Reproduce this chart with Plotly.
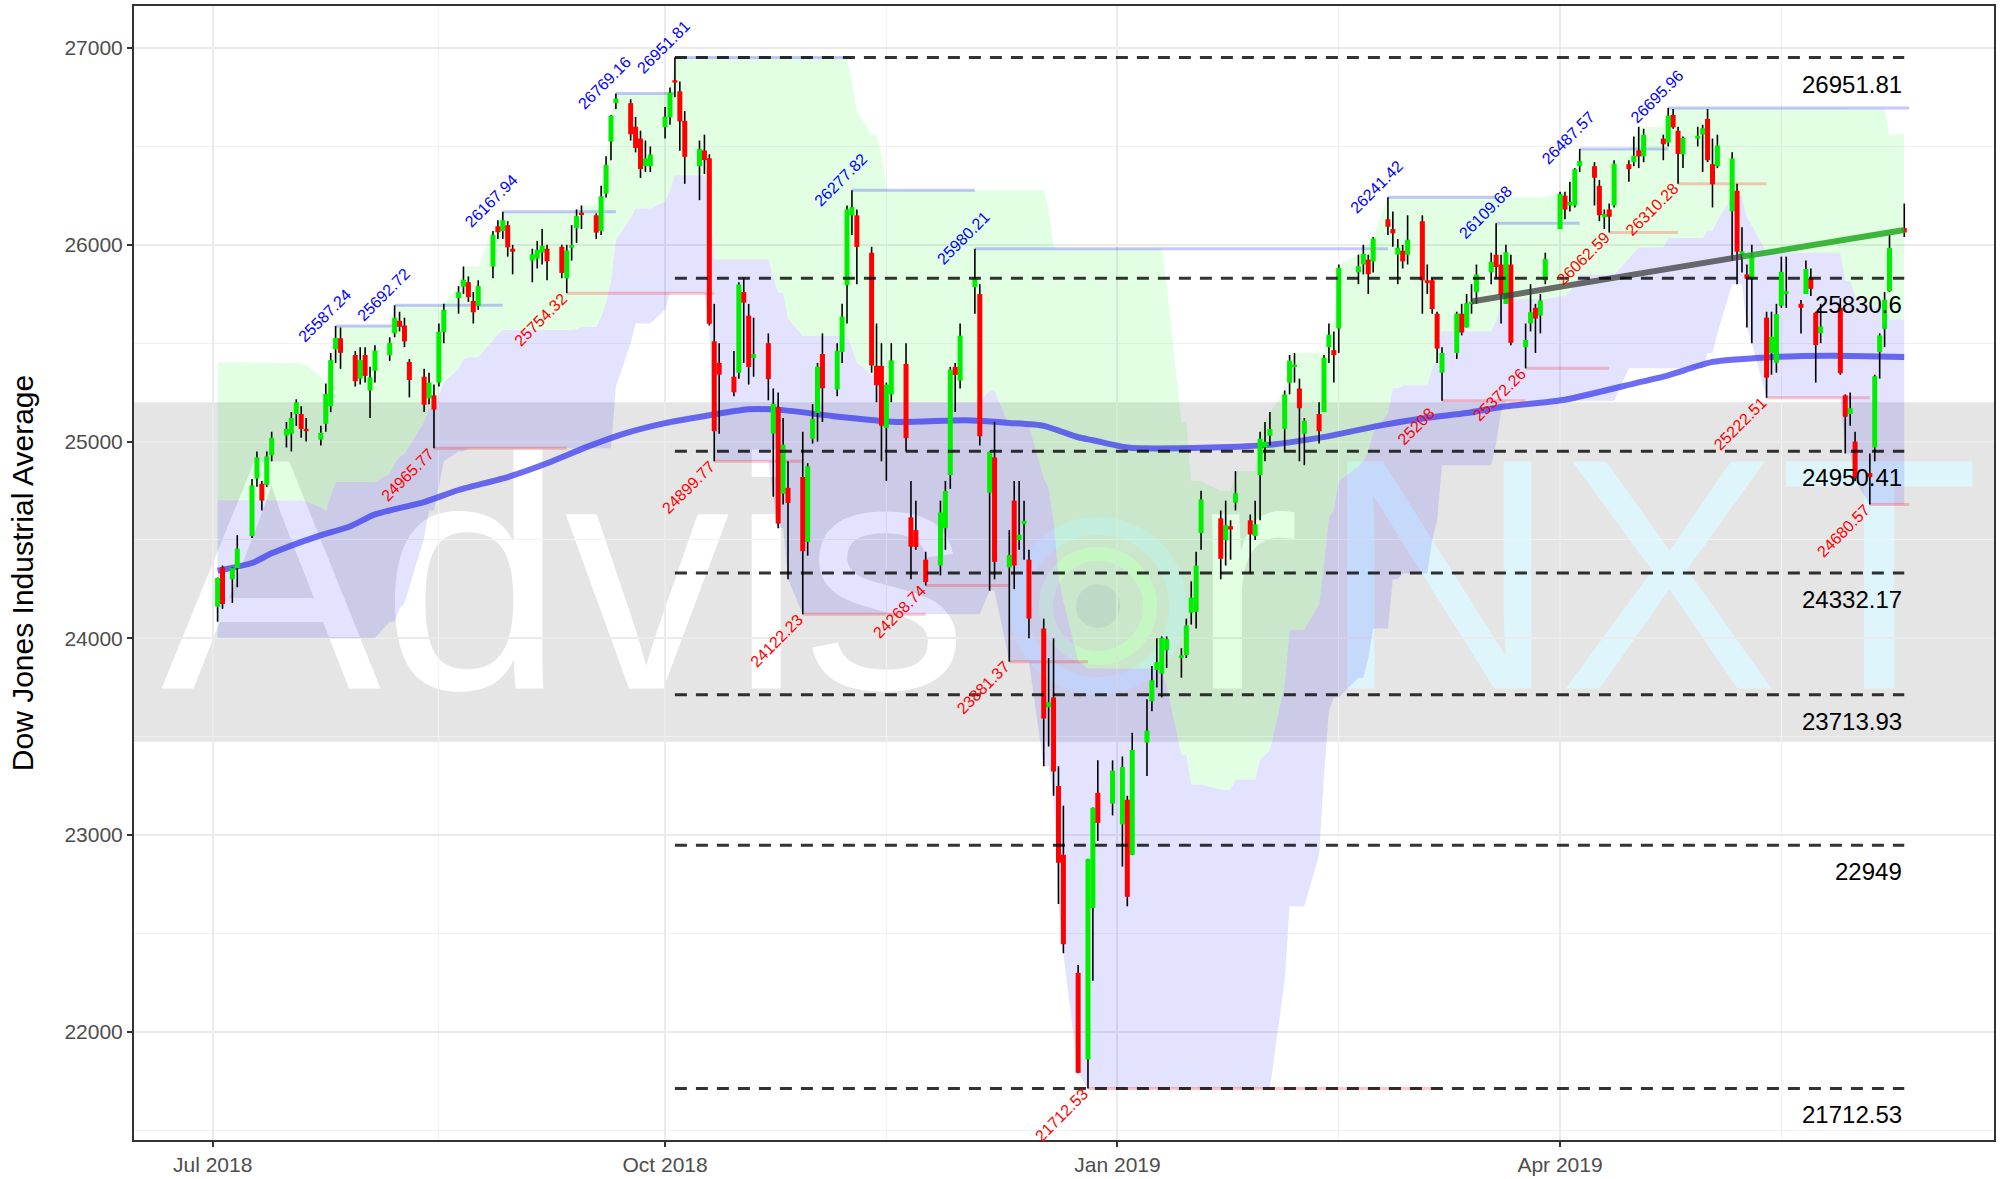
import plotly.graph_objects as go
import pandas as pd
import numpy as np

# ---------------- DATA ----------------
# trading days per month
month_days = {
    "2018-07": [2,3,5,6,9,10,11,12,13,16,17,18,19,20,23,24,25,26,27,30,31],
    "2018-08": [1,2,3,6,7,8,9,10,13,14,15,16,17,20,21,22,23,24,27,28,29,30,31],
    "2018-09": [4,5,6,7,10,11,12,13,14,17,18,19,20,21,24,25,26,27,28],
    "2018-10": [1,2,3,4,5,8,9,10,11,12,15,16,17,18,19,22,23,24,25,26,29,30,31],
    "2018-11": [1,2,5,6,7,8,9,12,13,14,15,16,19,20,21,23,26,27,28,29,30],
    "2018-12": [3,4,6,7,10,11,12,13,14,17,18,19,20,21,24,26,27,28,31],
    "2019-01": [2,3,4,7,8,9,10,11,14,15,16,17,18,22,23,24,25,28,29,30,31],
    "2019-02": [1,4,5,6,7,8,11,12,13,14,15,19,20,21,22,25,26,27,28],
    "2019-03": [1,4,5,6,7,8,11,12,13,14,15,18,19,20,21,22,25,26,27,28,29],
    "2019-04": [1,2,3,4,5,8,9,10,11,12,15,16,17,18,22,23,24,25,26,29,30],
    "2019-05": [1,2,3,6,7,8,9,10,13,14,15,16,17,20,21,22,23,24,28,29,30,31],
    "2019-06": [3,4,5,6,7,10],
}

open_ = [
    # Jul 2018
    24161,24360,24300,24357,24520,24812,24786,24780,24930,25030,25040,25140,25140,25060,25010,25090,25180,25470,25525,25440,25320,
    # Aug
    25440,25260,25360,25440,25550,25614,25590,25405,25330,25220,25235,25300,25557,25730,25787,25810,25715,25690,25890,26094,26070,26100,25980,
    # Sep
    25920,25930,25960,25980,25990,25830,25985,26085,26160,26150,26070,26260,26525,26720,26720,26600,26540,26400,26400,
    # Oct
    26598,26648,26833,26780,26630,26400,26480,26440,25510,25400,25330,25350,25760,25640,25425,25500,25040,25175,24735,24765,24820,24490,25015,
    # Nov
    25145,25445,25265,25455,25795,26150,26150,25960,25385,25385,25070,25240,25395,24615,24550,24400,24370,24560,24830,25380,25310,
    # Dec
    25785,25750,24740,24920,24360,24700,24500,24580,24400,24050,23650,23700,23250,22900,22300,21860,22630,23215,23160,
    # Jan 2019
    23055,23180,22900,23470,23680,23840,23820,23940,23905,23915,24130,24135,24535,24610,24500,24570,24690,24600,24520,24830,24970,
    # Feb
    25030,25065,25300,25380,25270,25040,25140,25150,25480,25465,25575,25860,25900,25925,25915,26130,26080,25950,25970,
    # Mar
    25950,26120,25820,25820,25650,25350,25450,25650,25580,25700,25760,25860,25950,25900,25700,25900,25480,25600,25680,25640,25820,
    # Apr
    26080,26250,26200,26200,26400,26400,26300,26140,26180,26200,26410,26420,26480,26450,26540,26520,26660,26580,26460,26540,26560,
    # May
    26640,26410,26400,26170,26275,25950,25850,25830,25630,25450,25400,25690,25750,25700,25750,25830,25655,25550,25680,25235,25140,25000,
    # Jun
    24840,24970,25455,25573,25765,26085,
]
high = [
    24309,24370,24360,24525,24810,24950,24800,24950,25050,25100,25150,25215,25180,25120,25080,25295,25450,25587.24,25580,25460,25480,
    25480,25380,25490,25530,25692.72,25660,25630,25420,25370,25350,25290,25600,25700,25790,25890,25840,25760,25820,26070,26125,26167.94,26120,26000,
    25980,26020,26080,26000,26000,26000,26100,26180,26200,26160,26300,26450,26660,26769.16,26740,26650,26580,26530,26500,
    26700,26800,26951.81,26830,26680,26530,26560,26460,25700,25500,25460,25810,25830,25700,25630,25550,25270,25250,25120,24900,25050,24890,25190,
    25400,25550,25500,25700,26200,26277.82,26180,25990,25600,25500,25300,25500,25500,24800,24700,24440,24700,24800,25380,25400,25600,
    25980.21,25800,24950,25100,24550,24800,24800,24700,24450,24100,23900,24000,23350,23150,22340,22880,23140,23380,23380,
    23400,23200,23520,23690,23860,24000,24010,24010,23950,24100,24290,24440,24750,24650,24700,24600,24850,24630,24700,25050,25100,
    25150,25260,25440,25450,25320,25120,25200,25440,25600,25560,25900,25950,26000,25950,26040,26241.42,26170,26030,26000,
    26150,26150,25900,25830,25660,25480,25660,25700,25750,25800,25900,25960,26109.68,25950,26000,25950,25600,25800,25700,25750,25960,
    26270,26270,26320,26390,26487.57,26420,26330,26180,26210,26430,26430,26550,26600,26590,26560,26695.96,26690,26600,26550,26600,26610,
    26690,26540,26560,26470,26310,26090,25900,26000,25660,25660,25700,25940,25940,25720,25920,25880,25660,25700,25730,25240,25250,25050,
    24940,25340,25550,25760,26050,26210,
]
low = [
    24085,24150,24180,24260,24510,24770,24650,24770,24900,24970,24950,25080,25020,25000,24980,25050,25150,25400,25370,25280,25290,
    25300,25120,25300,25410,25530,25560,25480,25225,25150,25190,24965.77,25280,25500,25650,25750,25710,25600,25670,25830,26030,26030,25940,25850,
    25810,25880,25900,25820,25830,25754.32,25920,26010,26080,26030,26050,26240,26430,26690,26530,26470,26340,26370,26370,
    26540,26610,26750,26478,26310,26227,26360,25590,24899.77,25040,25230,25320,25400,25290,25330,25210,24720,24560,24680,24300,24122.23,24420,24990,
    25000,25100,25230,25400,25600,26050,25800,25350,25200,24900,24800,25200,24950,24300,24450,24268.74,24320,24450,24760,25150,25270,
    25650,24980,24242,24300,23881.37,24250,24450,24400,24000,23350,23450,23200,22650,22400,21790,21712.53,22260,22970,23100,
    22840,22638,22900,23300,23630,23750,23700,23850,23800,23900,24070,24050,24450,24300,24370,24400,24650,24330,24500,24600,24900,
    24980,24950,25240,25300,24900,24880,24990,25150,25400,25300,25450,25800,25850,25750,25860,26050,25990,25800,25880,
    25900,25650,25750,25650,25400,25208.00,25420,25540,25580,25650,25700,25800,25830,25600,25700,25490,25372.26,25560,25450,25550,25800,
    26080,26130,26170,26190,26370,26200,26120,26080,26062.59,26190,26320,26400,26390,26420,26430,26500,26590,26310.28,26390,26500,26370,
    26420,26190,26390,25920,25800,25860,25580,25500,25222.51,25340,25350,25680,25680,25550,25750,25740,25300,25500,25340,24940,25080,24800,
    24680.57,24900,25320,25480,25760,26040,
]
close = [
    24307.18,24174.82,24356.74,24456.48,24776.59,24919.66,24700.45,24924.89,25019.41,25064.36,25119.89,25199.29,25064.50,25058.12,25044.29,25241.94,25414.10,25527.07,25451.06,25306.83,25415.19,
    25333.82,25326.16,25462.58,25502.18,25628.91,25583.75,25509.23,25313.14,25187.70,25299.92,25162.41,25558.73,25669.32,25758.69,25822.29,25733.60,25656.98,25790.35,26049.64,26064.02,26124.57,25986.92,25964.82,
    25952.48,25974.99,25995.87,25916.54,25857.07,25971.06,25998.92,26145.99,26154.67,26062.12,26246.96,26405.76,26656.98,26743.50,26562.05,26492.21,26385.28,26439.93,26458.31,
    26651.21,26773.94,26828.39,26627.48,26447.05,26486.78,26430.57,25598.74,25052.83,25339.99,25250.55,25798.42,25706.68,25379.45,25444.34,25317.41,25191.43,24583.42,24984.55,24688.31,24442.92,24874.64,25115.76,
    25380.74,25270.83,25461.70,25635.01,26180.30,26191.22,25989.30,25387.18,25286.49,25080.50,25289.27,25413.22,25017.44,24465.64,24464.69,24285.95,24640.24,24748.73,25366.43,25338.84,25538.46,
    25826.43,25027.07,24947.67,24388.95,24423.26,24370.24,24527.27,24597.38,24100.51,23592.98,23675.64,23323.66,22859.60,22445.37,21792.20,22878.45,23138.82,23062.40,23327.46,
    23346.24,22686.22,23433.16,23531.35,23787.45,23879.12,24001.92,23995.95,23909.84,24065.59,24207.16,24370.10,24706.35,24404.48,24575.62,24553.24,24737.20,24528.22,24579.96,25014.86,24999.67,
    25063.89,25239.37,25411.52,25390.30,25169.53,25106.33,25053.11,25425.76,25543.27,25439.39,25883.25,25891.32,25954.44,25850.63,26031.81,26091.95,26057.98,25985.16,25916.00,
    26026.32,25819.65,25806.63,25673.46,25473.23,25450.24,25650.88,25554.66,25702.89,25709.94,25848.87,25914.10,25887.38,25745.67,25962.51,25502.32,25516.83,25657.73,25625.59,25717.46,25928.68,
    26258.42,26179.13,26218.13,26384.63,26424.99,26341.02,26150.58,26157.16,26143.05,26412.30,26384.77,26452.66,26449.54,26559.54,26511.05,26656.39,26597.05,26462.08,26543.33,26554.39,26592.91,
    26430.14,26307.79,26504.95,26438.48,25965.09,25967.33,25828.36,25942.37,25324.99,25532.05,25648.02,25862.68,25764.00,25679.90,25877.33,25776.61,25490.47,25585.69,25347.77,25126.41,25169.88,24815.04,
    24819.78,25332.18,25539.57,25720.66,25983.94,26062.68,
]

# highs / lows of the 25 sessions before the first candle (for the 26-day channel)
pre_high = [24800,24550,24700,24700,24700,24850,24850,25150,25326,25320,25380,25402.83,25400,25390,25330,25000,24800,24800,24650,24650,24500,24400,24550,24250,24500]
pre_low = [24635,24250,24400,24400,24500,24650,24750,24800,25100,25100,25300,25300,25200,25100,24900,24800,24550,24650,24400,24450,24100,24200,24100,24002,24250]

# 200-day moving average
ma_dates = ["2018-07-02","2018-07-09","2018-07-13","2018-07-22","2018-07-29","2018-08-03","2018-08-13","2018-08-20",
            "2018-08-30","2018-09-07","2018-09-15","2018-09-23","2018-10-01","2018-10-08","2018-10-18","2018-10-25",
            "2018-11-04","2018-11-17","2018-12-01","2018-12-10","2018-12-17","2018-12-24","2018-12-27","2019-01-03",
            "2019-01-20","2019-02-02","2019-02-14","2019-02-23","2019-03-05","2019-03-13","2019-03-20","2019-04-02",
            "2019-04-16","2019-04-23","2019-05-02","2019-05-13","2019-05-26","2019-06-10"]
ma_vals = [24344,24383,24432,24516,24570,24630,24693,24754,
           24820,24890,24972,25043,25094,25125,25164,25160,
           25130,25100,25108,25095,25080,25022,25007,24970,
           24970,24987,25033,25080,25121,25145,25176,25213,
           25295,25337,25405,25428,25436,25430]

peak_dates = ["2018-07-26","2018-08-07","2018-08-29","2018-09-21","2018-10-03","2018-11-08","2018-12-03",
              "2019-02-25","2019-03-19","2019-04-05","2019-04-23"]
peak_vals = [25587.24,25692.72,26167.94,26769.16,26951.81,26277.82,25980.21,26241.42,26109.68,26487.57,26695.96]
trough_dates = ["2018-08-15","2018-09-11","2018-10-11","2018-10-29","2018-11-23","2018-12-10","2018-12-26",
                "2019-03-08","2019-03-25","2019-04-11","2019-04-25","2019-05-13","2019-06-03"]
trough_vals = [24965.77,25754.32,24899.77,24122.23,24268.74,23881.37,21712.53,25208,25372.26,26062.59,26310.28,25222.51,24680.57]
segment_end = "2019-06-11"

level_vals = [26951.81,25830.6,24950.41,24332.17,23713.93,22949,21712.53]
level_start, level_end = "2018-10-03", "2019-06-10"

band_low, band_high = 23474, 25200

trend_dates = ["2019-03-14","2019-05-08","2019-06-10"]
trend_vals = [25712,25940,26075]

x_tick_vals = ["2018-07-01","2018-10-01","2019-01-01","2019-04-01"]
x_tick_text = ["Jul 2018","Oct 2018","Jan 2019","Apr 2019"]
x_minor_vals = ["2018-05-16","2018-08-16","2018-11-15","2019-02-15","2019-05-16"]
y_tick_vals = [22000,23000,24000,25000,26000,27000]
y_tick_text = ["22000","23000","24000","25000","26000","27000"]

# ---------------- BUILD ----------------
dates = [f"{m}-{d:02d}" for m, ds in month_days.items() for d in ds]
n = len(dates)
for name, arr in [("open", open_), ("high", high), ("low", low), ("close", close)]:
    if len(arr) != n:
        raise ValueError(f"{name}: {len(arr)} vs {n}")

o = np.array(open_, float); h = np.array(high, float)
l = np.array(low, float); c = np.array(close, float)

all_h = pd.Series(pre_high + high, dtype=float)
all_l = pd.Series(pre_low + low, dtype=float)
k = len(pre_high)
hh = all_h.rolling(26).max().values[k:]
ll = all_l.rolling(26).min().values[k:]
mid = (hh + ll) / 2

FONT = "Liberation Sans"
fig = go.Figure()
nohover = dict(hoverinfo="skip", showlegend=False)

# channel fills
fig.add_trace(go.Scatter(x=dates, y=hh, mode="lines", line=dict(width=0), **nohover))
fig.add_trace(go.Scatter(x=dates, y=mid, mode="lines", line=dict(width=0), fill="tonexty",
                         fillcolor="rgba(0,255,0,0.11)", **nohover))
fig.add_trace(go.Scatter(x=dates, y=mid, mode="lines", line=dict(width=0), **nohover))
fig.add_trace(go.Scatter(x=dates, y=ll, mode="lines", line=dict(width=0), fill="tonexty",
                         fillcolor="rgba(0,0,255,0.11)", **nohover))

# moving average
fig.add_trace(go.Scatter(x=ma_dates, y=ma_vals, mode="lines",
                         line=dict(color="rgba(60,60,240,0.75)", width=6, shape="spline", smoothing=0.6), **nohover))

# peak / trough segments
def segs(ds, vs):
    xs, ys = [], []
    for i, (d, v) in enumerate(zip(ds, vs)):
        e = ds[i + 1] if i + 1 < len(ds) else segment_end
        xs += [d, e, None]; ys += [v, v, None]
    return xs, ys
px_, py_ = segs(peak_dates, peak_vals)
fig.add_trace(go.Scatter(x=px_, y=py_, mode="lines", line=dict(color="rgba(0,0,255,0.22)", width=3), **nohover))
tx_, ty_ = segs(trough_dates, trough_vals)
fig.add_trace(go.Scatter(x=tx_, y=ty_, mode="lines", line=dict(color="rgba(255,0,0,0.22)", width=3), **nohover))

# wicks
wx, wy = [], []
for d, lo, hi in zip(dates, l, h):
    wx += [d, d, None]; wy += [lo, hi, None]
fig.add_trace(go.Scatter(x=wx, y=wy, mode="lines", line=dict(color="black", width=1.6), **nohover))

# bodies (thick line segments from open to close)
for up, col in [(True, "#00ee00"), (False, "#ff0000")]:
    bx, by = [], []
    for d, oo, cc in zip(dates, o, c):
        if (cc >= oo) != up:
            continue
        lo_, hi_ = min(oo, cc), max(oo, cc)
        if hi_ - lo_ < 12:
            m_ = (hi_ + lo_) / 2
            lo_, hi_ = m_ - 6, m_ + 6
        bx += [d, d, None]; by += [lo_, hi_, None]
    fig.add_trace(go.Scatter(x=bx, y=by, mode="lines", line=dict(color=col, width=5), **nohover))

# trend line
fig.add_trace(go.Scatter(x=trend_dates[:2], y=trend_vals[:2], mode="lines",
                         line=dict(color="rgba(60,60,60,0.75)", width=6), **nohover))
fig.add_trace(go.Scatter(x=trend_dates[1:], y=trend_vals[1:], mode="lines",
                         line=dict(color="rgba(30,170,30,0.85)", width=6), **nohover))

# level lines
lx, ly = [], []
for v in level_vals:
    lx += [level_start, level_end, None]; ly += [v, v, None]
fig.add_trace(go.Scatter(x=lx, y=ly, mode="lines",
                         line=dict(color="rgba(0,0,0,0.8)", width=3, dash="12px,9px"), **nohover))

def fmt(v):
    s = "%.2f" % v
    return s.rstrip("0").rstrip(".")

ann = []
for d, v in zip(peak_dates, peak_vals):
    ann.append(dict(x=d, y=v, text=fmt(v), showarrow=False, textangle=-45, xanchor="center", yanchor="middle",
                    xshift=-11, yshift=11, font=dict(family=FONT, size=16, color="#0000ff")))
for d, v in zip(trough_dates, trough_vals):
    ann.append(dict(x=d, y=v, text=fmt(v), showarrow=False, textangle=-45, xanchor="center", yanchor="middle",
                    xshift=-26, yshift=-26, font=dict(family=FONT, size=16, color="#ff0000")))
for v in level_vals:
    ann.append(dict(x=level_end, y=v, text=fmt(v), showarrow=False, xanchor="right", yanchor="top",
                    yshift=-11, font=dict(family=FONT, size=24, color="black")))

# layout geometry helpers (pixel -> paper)
L0, R0, T0, B0 = 134, 1994, 6, 1140
def pxx(p): return (p - L0) / (R0 - L0)
def pxy(p): return (B0 - p) / (B0 - T0)

shapes = [dict(type="rect", xref="paper", x0=0, x1=1, yref="y", y0=band_low, y1=band_high,
               fillcolor="rgba(0,0,0,0.1)", line=dict(width=0), layer="between")]
# watermark text
WM_Y = 543
for txt, left, col in [("Advis", 158, "white"), ("r", 1187, "white"), ("NXT", 1317, "#def5fb")]:
    shapes.append(dict(type="rect", xref="paper", yref="paper", x0=pxx(left), x1=pxx(left) + 0.01,
                       y0=pxy(WM_Y) - 0.01, y1=pxy(WM_Y) + 0.01, line=dict(width=0),
                       fillcolor="rgba(0,0,0,0)", layer="between",
                       label=dict(text=txt, textposition="middle left", padding=0,
                                  font=dict(family=FONT, size=330, color=col))))
# watermark logo
cx, cy = 1098, 606
for r, w, lc, fc in [(80, 18, "rgba(215,238,255,0.75)", "rgba(0,0,0,0)"),
                     (52, 14, "rgba(220,250,215,0.8)", "rgba(0,0,0,0)"),
                     (22, 0, "rgba(0,0,0,0)", "rgba(190,195,215,0.45)")]:
    shapes.append(dict(type="circle", xref="paper", yref="paper", x0=pxx(cx - r), x1=pxx(cx + r),
                       y0=pxy(cy + r), y1=pxy(cy - r), line=dict(color=lc, width=w), fillcolor=fc, layer="between"))

axis_common = dict(showline=True, mirror=True, linecolor="#333333", linewidth=2, ticks="outside", ticklen=5,
                   tickwidth=2, tickcolor="#333333", showgrid=True, gridcolor="#ebebeb", gridwidth=2,
                   zeroline=False, automargin=False)

fig.update_layout(
    width=2007, height=1179,
    margin=dict(l=L0, r=2007 - R0, t=T0, b=1179 - B0),
    plot_bgcolor="white", paper_bgcolor="white",
    showlegend=False,
    shapes=shapes, annotations=ann,
    xaxis=dict(type="date", range=["2018-06-15", "2019-06-28 06:00"], tickvals=x_tick_vals, ticktext=x_tick_text,
               minor=dict(tickvals=x_minor_vals, showgrid=True, gridcolor="#f2f2f2", gridwidth=1),
               tickfont=dict(family=FONT, size=21, color="#4d4d4d"),
               **axis_common),
    yaxis=dict(range=[21450.6, 27213.8], tickvals=y_tick_vals, ticktext=y_tick_text,
               minor=dict(dtick=500, tick0=21500, showgrid=True, gridcolor="#f2f2f2", gridwidth=1),
               tickfont=dict(family=FONT, size=21, color="#4d4d4d"),
               title=dict(text="Dow Jones Industrial Average", standoff=22, font=dict(family=FONT, size=30, color="black")),
               **axis_common),
    font=dict(family=FONT),
)

fig.write_html("out.html")
